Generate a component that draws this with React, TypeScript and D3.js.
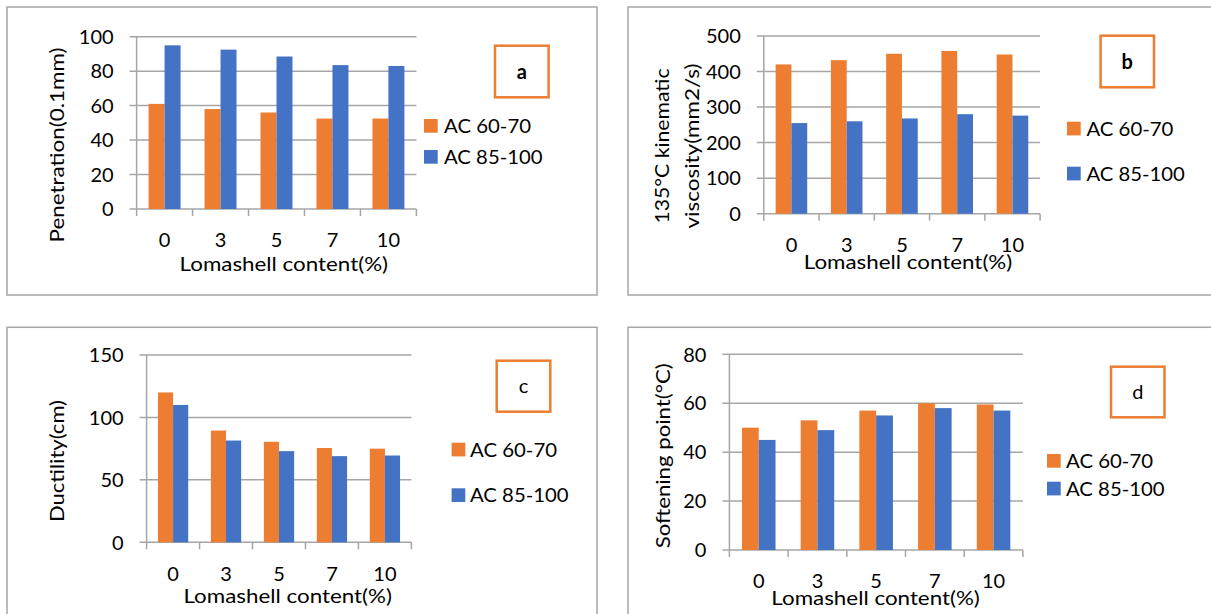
import React from 'react';
import * as d3 from 'd3';

// Lomashell content categories (x axis)
const categories = ['0', '3', '5', '7', '10'];
const seriesNames = ['AC 60-70', 'AC 85-100'];
const seriesColors = ['#ED7D31', '#4472C4'];

// a: penetration (0.1mm)
const penetration6070 = [61, 58, 56, 52.5, 52.5];
const penetration85100 = [95, 92.5, 88.5, 83.5, 83];
// b: 135°C kinematic viscosity (mm2/s)
const viscosity6070 = [420, 432, 450, 458, 448];
const viscosity85100 = [255, 260, 268, 280, 276];
// c: ductility (cm)
const ductility6070 = [120, 89.5, 80.5, 75.5, 75];
const ductility85100 = [110, 81.5, 73, 69, 69.5];
// d: softening point (°C)
const softening6070 = [50, 53, 57, 60, 59.5];
const softening85100 = [45, 49, 55, 58, 57];

const FONT = 'Lato, "Open Sans", sans-serif';
const GRID = '#a6a6a6';
// widths of the longer labels as measured on the reference
const legendLen = [87, 98.5];
const xTitleLen = 208.5;

type PanelProps = {
  frame: { x: number; y: number; w: number; h: number };
  plot: { left: number; right: number; top: number; bottom: number };
  yMax: number;
  yStep: number;
  values: number[][];
  tickY: number;
  titleX: number;
  titleY: number;
  yTitle: string[];
  yTitleLen: number[];
  yTitleX: number[];
  yTitleY: number;
  legend: { x: number; y: number[]; textX: number };
  box: { x: number; y: number; w: number; h: number };
  label: string;
  bold: boolean;
};

function Panel(p: PanelProps) {
  const x = d3.scaleBand<string>().domain(categories).range([p.plot.left, p.plot.right]).padding(0);
  const y = d3.scaleLinear().domain([0, p.yMax]).range([p.plot.bottom, p.plot.top]);
  const groupW = x.bandwidth() * (2 / 3.5);
  const inner = d3.scaleBand<number>().domain([0, 1]).range([0, groupW]).padding(0);
  const ticks = d3.range(0, p.yMax + p.yStep / 2, p.yStep);
  const sq = 13.7;

  return (
    <g>
      <rect x={p.frame.x} y={p.frame.y} width={p.frame.w} height={p.frame.h} fill="#fff" stroke={GRID} strokeWidth={1.5} />
      {ticks.map((t) => (
        <g key={t}>
          <line x1={p.plot.left - 7} x2={p.plot.right} y1={y(t)} y2={y(t)} stroke={GRID} strokeWidth={1.5} />
          <text x={p.plot.left - 23} y={y(t)} dy="0.36em" textAnchor="end" fontSize={20} fontFamily={FONT} fill="#000">
            {t}
          </text>
        </g>
      ))}
      <line x1={p.plot.left} x2={p.plot.left} y1={p.plot.top} y2={p.plot.bottom} stroke={GRID} strokeWidth={1.5} />
      {categories.map((c, i) => (
        <line key={'t' + i} x1={x(c)} x2={x(c)} y1={p.plot.bottom} y2={p.plot.bottom + 7} stroke={GRID} strokeWidth={1.5} />
      ))}
      <line x1={p.plot.right} x2={p.plot.right} y1={p.plot.bottom} y2={p.plot.bottom + 7} stroke={GRID} strokeWidth={1.5} />
      {p.values.map((vals, s) =>
        vals.map((v, i) => {
          const x0 = (x(categories[i]) as number) + (x.bandwidth() - groupW) / 2 + (inner(s) as number);
          return (
            <rect key={s + '-' + i} x={x0} y={y(v)} width={inner.bandwidth()} height={y(0) - y(v)} fill={seriesColors[s]} />
          );
        })
      )}
      {categories.map((c) => (
        <text key={'l' + c} x={(x(c) as number) + x.bandwidth() / 2} y={p.tickY} dy="0.36em" textAnchor="middle" fontSize={20} fontFamily={FONT} fill="#000">
          {c}
        </text>
      ))}
      <text x={p.titleX} y={p.titleY} dy="0.36em" textAnchor="middle" fontSize={20} fontFamily={FONT} fill="#000"
        textLength={xTitleLen} lengthAdjust="spacingAndGlyphs">
        Lomashell content(%)
      </text>
      {p.yTitle.map((line, i) => (
        <text key={line} transform={`translate(${p.yTitleX[i]},${p.yTitleY}) rotate(-90)`} dy="0.36em" textAnchor="middle" fontSize={20} fontFamily={FONT} fill="#000"
          textLength={p.yTitleLen[i]} lengthAdjust="spacingAndGlyphs">
          {line}
        </text>
      ))}
      {seriesNames.map((n, s) => (
        <g key={n}>
          <rect x={p.legend.x} y={p.legend.y[s]} width={sq} height={sq} fill={seriesColors[s]} />
          <text x={p.legend.textX} y={p.legend.y[s] + sq / 2} dy="0.36em" fontSize={20} fontFamily={FONT} fill="#000"
            textLength={legendLen[s]} lengthAdjust="spacingAndGlyphs">
            {n}
          </text>
        </g>
      ))}
      <rect x={p.box.x} y={p.box.y} width={p.box.w} height={p.box.h} fill="#fff" stroke="#ED7D31" strokeWidth={2.5} />
      <text x={p.box.x + p.box.w / 2} y={p.box.y + p.box.h / 2} dy="0.36em" textAnchor="middle" fontSize={20} fontWeight={p.bold ? 'bold' : 'normal'} fontFamily={FONT} fill="#000">
        {p.label}
      </text>
    </g>
  );
}

export default function App() {
  return (
    <svg width={1211} height={614} style={{ position: 'absolute', left: 0, top: 0, background: '#fff' }}>
      <Panel
        frame={{ x: 7, y: 7, w: 590, h: 288 }}
        plot={{ left: 136.6, right: 416.4, top: 36.7, bottom: 209 }}
        yMax={100}
        yStep={20}
        values={[penetration6070, penetration85100]}
        tickY={240}
        titleX={283.8}
        titleY={264}
        yTitle={['Penetration(0.1mm)']}
        yTitleLen={[195]}
        yTitleX={[56.6]}
        yTitleY={145}
        legend={{ x: 424, y: [119, 150], textX: 444 }}
        box={{ x: 495, y: 45.7, w: 53.6, h: 51.6 }}
        label="a"
        bold={true}
      />
      <Panel
        frame={{ x: 628, y: 7, w: 600, h: 288 }}
        plot={{ left: 763.8, right: 1040.1, top: 36, bottom: 213.7 }}
        yMax={500}
        yStep={100}
        values={[viscosity6070, viscosity85100]}
        tickY={245}
        titleX={908}
        titleY={262}
        yTitle={['135°C kinematic', 'viscosity(mm2/s)']}
        yTitleLen={[155, 165]}
        yTitleX={[661.6, 692]}
        yTitleY={146}
        legend={{ x: 1067, y: [121.7, 166.7], textX: 1086.4 }}
        box={{ x: 1100.6, y: 35.7, w: 53.4, h: 51.6 }}
        label="b"
        bold={true}
      />
      <Panel
        frame={{ x: 7, y: 327.3, w: 590, h: 300 }}
        plot={{ left: 146.6, right: 411.4, top: 355, bottom: 542.3 }}
        yMax={150}
        yStep={50}
        values={[ductility6070, ductility85100]}
        tickY={574}
        titleX={287.7}
        titleY={596}
        yTitle={['Ductility(cm)']}
        yTitleLen={[122]}
        yTitleX={[56.6]}
        yTitleY={461}
        legend={{ x: 451.6, y: [442.7, 488.3], textX: 470 }}
        box={{ x: 496.7, y: 360.7, w: 53.6, h: 51 }}
        label="c"
        bold={false}
      />
      <Panel
        frame={{ x: 628, y: 327.3, w: 600, h: 300 }}
        plot={{ left: 729.4, right: 1022.9, top: 354.3, bottom: 550 }}
        yMax={80}
        yStep={20}
        values={[softening6070, softening85100]}
        tickY={580.7}
        titleX={875.6}
        titleY={597.3}
        yTitle={['Softening point(°C)']}
        yTitleLen={[185]}
        yTitleX={[662.4]}
        yTitleY={455.8}
        legend={{ x: 1047, y: [454, 481.7], textX: 1066 }}
        box={{ x: 1111, y: 366.7, w: 53.5, h: 50.6 }}
        label="d"
        bold={false}
      />
    </svg>
  );
}
